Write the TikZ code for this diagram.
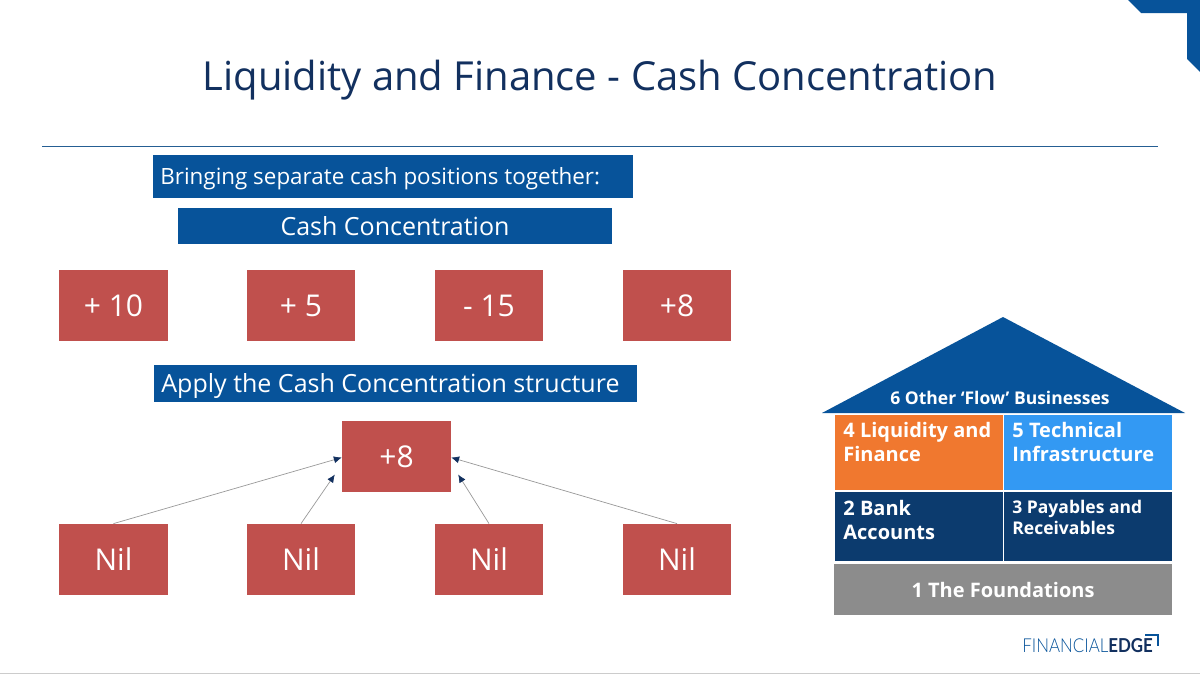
\documentclass[tikz,border=0pt]{standalone}
\usepackage{fontspec}
\setmainfont{Open Sans}
\newfontfamily\logofont[FakeStretch=0.88]{Lato Light}
\newfontfamily\logobold[FakeStretch=0.88]{Lato}
\usetikzlibrary{arrows.meta}
\definecolor{navy}{HTML}{12305F}
\definecolor{barblue}{HTML}{07539A}
\definecolor{boxred}{HTML}{C0504D}
\definecolor{cellorange}{HTML}{F0782F}
\definecolor{cellblue}{HTML}{3399F3}
\definecolor{celldark}{HTML}{0C3B6E}
\definecolor{cellgrey}{HTML}{8C8C8C}
\tikzset{
  bar/.style={fill=barblue,text=white,inner sep=0pt,font=\fontsize{12.5}{14}\selectfont},
  redbox/.style={fill=boxred,text=white,inner sep=0pt,minimum width=54.25pt,minimum height=35.5pt,font=\fontsize{15}{17}\selectfont},
  cell/.style={inner sep=0pt,minimum width=84pt},
  celltext/.style={anchor=north west,inner sep=0pt,text=white,align=left,font=\bfseries\fontsize{10}{12}\selectfont},
  flow/.style={draw=gray!80,line width=0.35pt,-{Latex[length=4pt,width=3.5pt,color=navy]}}
}
\begin{document}
\begin{tikzpicture}[x=0.5pt,y=-0.5pt]
\useasboundingbox (0,0) rectangle (1200,675);
\fill[white] (0,0) rectangle (1200,675);
\fill[barblue] (1128,0) -- (1141,13) -- (1187,13) -- (1187,59) -- (1200,72) -- (1200,0) -- cycle;
\draw[gray!40,line width=0.6pt] (0,673.5) -- (1200,673.5);
\node[text=navy,inner sep=0pt,font=\fontsize{20}{24}\selectfont] (title) at (600,80) {Liquidity and Finance - Cash Concentration};
\draw[draw=barblue!75!gray,line width=0.5pt] (42,146) -- (1158,146);
\node[bar,minimum width=240pt,minimum height=21.5pt] (bar1) at (393,176.5) {};
\node[anchor=west,inner sep=0pt,text=white,font=\fontsize{11.2}{13}\selectfont] (bar1text) at (160,179) {Bringing separate cash positions together:};
\node[bar,minimum width=217pt,minimum height=18pt] (bar2) at (395,226) {Cash Concentration};
\node[bar,minimum width=241.5pt,minimum height=18.5pt] (bar3) at (395.5,383.5) {};
\node[anchor=west,inner sep=0pt,text=white,font=\fontsize{12.5}{15}\selectfont] (bar3text) at (161,386) {Apply the Cash Concentration structure};
\node[redbox] (pos1) at (113.5,305.5) {+ 10};
\node[redbox] (pos2) at (301,305.5) {+ 5};
\node[redbox] (pos3) at (489,305.5) {- 15};
\node[redbox] (pos4) at (677,305.5) {+8};
\node[redbox] (top) at (396.5,456.5) {+8};
\node[redbox] (nil1) at (113.5,559.5) {Nil};
\node[redbox] (nil2) at (301,559.5) {Nil};
\node[redbox] (nil3) at (489,559.5) {Nil};
\node[redbox] (nil4) at (677,559.5) {Nil};
\draw[flow] (nil1.north) -- ([yshift=-0.5pt]top.west);
\draw[flow] (nil2.north) -- ([xshift=-3.5pt,yshift=-9pt]top.west);
\draw[flow] (nil3.north) -- ([xshift=3.5pt,yshift=-9pt]top.east);
\draw[flow] (nil4.north) -- ([yshift=-0.5pt]top.east);
% house
\fill[barblue] (1003,317) -- (1185,413) -- (822,413) -- cycle;
\node[inner sep=0pt,text=white,font=\bfseries\fontsize{8.75}{10}\selectfont] (roof) at (1000,398) {6 Other ‘Flow’ Businesses};
\node[cell,fill=cellorange,minimum height=37.5pt] (cell4) at (918.5,452.5) {};
\node[cell,fill=cellblue,minimum height=37.5pt] (cell5) at (1088,452.5) {};
\node[cell,fill=celldark,minimum height=34.5pt] (cell2) at (918.5,526.5) {};
\node[cell,fill=celldark,minimum height=34.5pt] (cell3) at (1088,526.5) {};
\node[fill=cellgrey,inner sep=0pt,minimum width=169pt,minimum height=25.5pt,text=white,font=\bfseries\fontsize{10}{12}\selectfont] (cell1) at (1003,589.5) {1 The Foundations};
\node[celltext] (text4) at (843,422) {4 Liquidity and\\Finance};
\node[celltext] (text5) at (1012,422) {5 Technical\\Infrastructure};
\node[celltext] (text2) at (843,500) {2 Bank\\Accounts};
\node[celltext,font=\bfseries\fontsize{8.75}{10.2}\selectfont] (text3) at (1012,500) {3 Payables and\\Receivables};
% logo
\node[anchor=base west,inner sep=0pt,font=\fontsize{9.6}{12}\selectfont] (logo) at (1022,652) {\logofont\textcolor{barblue}{FINANCIAL}\logobold\textcolor{navy}{\bfseries EDGE}};
\draw[barblue,line width=0.7pt] (1145,635) -- (1158,635) -- (1158,646);
\end{tikzpicture}
\end{document}
